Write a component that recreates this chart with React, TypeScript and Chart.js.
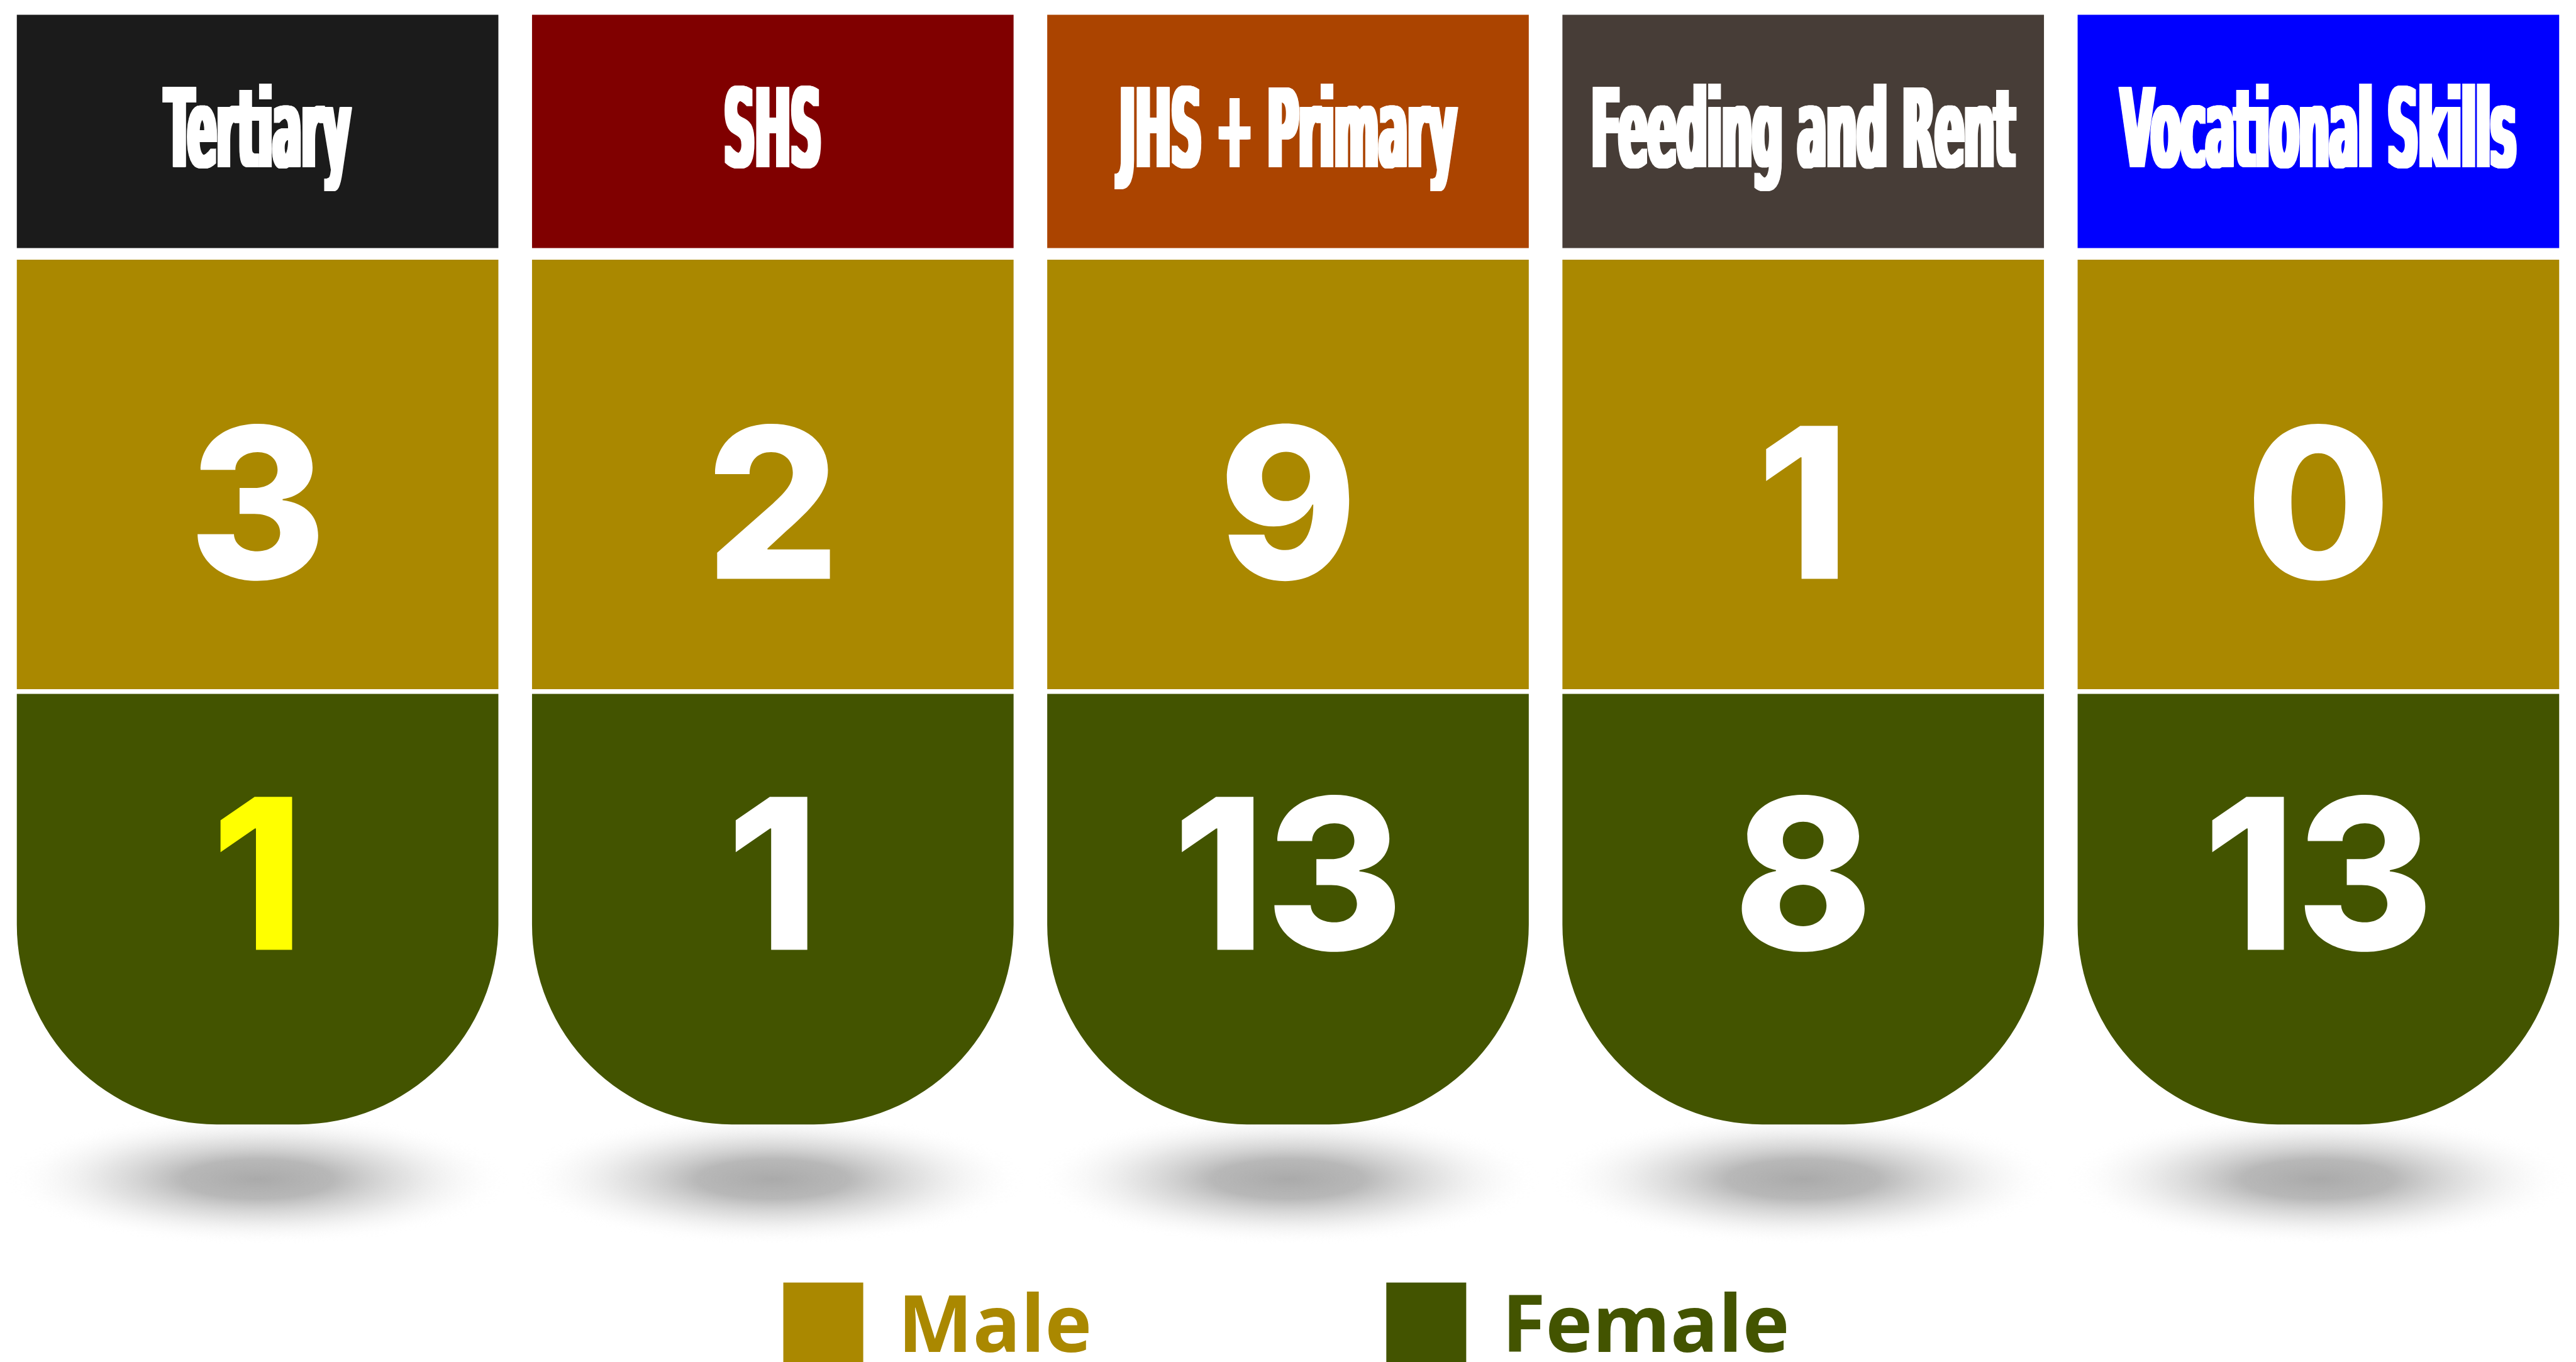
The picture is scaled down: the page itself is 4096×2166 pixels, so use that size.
import React, { useEffect, useRef } from "react";
import { Chart, registerables } from "chart.js";

Chart.register(...registerables);

// ---- data ----
const categories = ["Tertiary", "SHS", "JHS + Primary", "Feeding and Rent", "Vocational Skills"];
const maleValues = [3, 2, 9, 1, 0];
const femaleValues = [1, 1, 13, 8, 13];
const seriesNames = ["Male", "Female"];

// ---- styles ----
const headerColors = ["#1b1b1b", "#800000", "#ab4400", "#473d37", "#0000ff"];
const maleColor = "#aa8800";
const femaleColor = "#435400";
const femaleLabelColors = ["#ffff00", "#ffffff", "#ffffff", "#ffffff", "#ffffff"];

// ---- layout (reference units, 4900 x 2591) ----
const W = 4096;
const H = 2166;
const S = W / 4900;
const REF_H = 2591;
const ROW_HEADER: [number, number] = [28, 472];
const ROW_MALE: [number, number] = [494, 1311];
const ROW_FEMALE: [number, number] = [1320, 2139];
const CORNER = 380;
const HEADER_BASE = 318;
const MALE_BASE = 1101;
const FEMALE_BASE = 1807;
const SHADOW_Y = 2243;
const HEADER_FONT = `"DejaVu Sans Condensed", "DejaVu Sans", sans-serif`;

const overlayPlugin = {
  id: "overlay",
  beforeDatasetsDraw(chart: any) {
    const ctx = chart.ctx;
    const y = chart.scales.y;
    const meta = chart.getDatasetMeta(2);
    meta.data.forEach((el: any) => {
      const cx = el.x;
      const cy = y.getPixelForValue(SHADOW_Y);
      const rx = 480 * S;
      const ry = 125 * S;
      ctx.save();
      ctx.translate(cx, cy);
      ctx.scale(1, ry / rx);
      const g = ctx.createRadialGradient(0, 0, 0, 0, 0, rx);
      g.addColorStop(0, "rgba(170,170,170,1)");
      g.addColorStop(0.3, "rgba(178,178,178,0.92)");
      g.addColorStop(0.6, "rgba(210,210,210,0.6)");
      g.addColorStop(0.85, "rgba(238,238,238,0.25)");
      g.addColorStop(1, "rgba(255,255,255,0)");
      ctx.fillStyle = g;
      ctx.beginPath();
      ctx.arc(0, 0, rx, 0, Math.PI * 2);
      ctx.fill();
      ctx.restore();
    });
  },
  afterDatasetsDraw(chart: any) {
    const ctx = chart.ctx;
    const y = chart.scales.y;
    const headerMeta = chart.getDatasetMeta(0);

    // header labels (condensed display look)
    const hSize = 208 * S;
    const smear = 10 * S; // total horizontal thickening, px
    ctx.save();
    ctx.font = `bold ${hSize}px ${HEADER_FONT}`;
    const natural = ctx.measureText(categories[4]).width;
    ctx.restore();
    const squeeze = (762 * S - smear) / natural;
    headerMeta.data.forEach((el: any, i: number) => {
      ctx.save();
      ctx.translate(el.x, y.getPixelForValue(HEADER_BASE));
      ctx.scale(squeeze, 1);
      ctx.font = `bold ${hSize}px ${HEADER_FONT}`;
      ctx.textAlign = "center";
      ctx.textBaseline = "alphabetic";
      ctx.fillStyle = "#ffffff";
      const half = smear / 2 / squeeze;
      const step = Math.max(0.5, half / 6);
      for (let d = -half; d <= half + 0.001; d += step) {
        ctx.fillText(categories[i], d, 0);
      }
      ctx.restore();
    });

    // values
    ctx.save();
    ctx.font = `800 ${400 * S}px Inter, "Open Sans", sans-serif`;
    ctx.textAlign = "center";
    ctx.textBaseline = "alphabetic";
    headerMeta.data.forEach((el: any, i: number) => {
      ctx.fillStyle = "#ffffff";
      ctx.fillText(String(maleValues[i]), el.x, y.getPixelForValue(MALE_BASE));
      ctx.fillStyle = femaleLabelColors[i];
      ctx.fillText(String(femaleValues[i]), el.x, y.getPixelForValue(FEMALE_BASE));
    });
    ctx.restore();

    // legend
    const items = [
      { name: seriesNames[0], color: maleColor, box: 1490, text: 1708 },
      { name: seriesNames[1], color: femaleColor, box: 2637, text: 2857 },
    ];
    ctx.save();
    ctx.font = `bold ${151 * S}px "Open Sans", sans-serif`;
    ctx.textAlign = "left";
    ctx.textBaseline = "alphabetic";
    items.forEach((it) => {
      ctx.fillStyle = it.color;
      ctx.fillRect(it.box * S, 2440 * S, 152 * S, 200 * S);
      ctx.fillText(it.name, it.text * S, 2572 * S);
    });
    ctx.restore();
  },
};

export default function App() {
  const ref = useRef<HTMLCanvasElement | null>(null);

  useEffect(() => {
    document.body.style.margin = "0";
    document.body.style.background = "#ffffff";
    const canvas = ref.current;
    if (!canvas) return;
    const span = (r: [number, number]) => categories.map(() => [r[0], r[1]]);
    const common = {
      grouped: false,
      barPercentage: 916 / 980,
      categoryPercentage: 1,
      borderWidth: 0,
      borderSkipped: false,
    };
    const chart = new Chart(canvas, {
      type: "bar",
      data: {
        labels: categories,
        datasets: [
          { label: "Header", data: span(ROW_HEADER) as any, backgroundColor: headerColors, ...common },
          { label: seriesNames[0], data: span(ROW_MALE) as any, backgroundColor: maleColor, ...common },
          {
            label: seriesNames[1],
            data: span(ROW_FEMALE) as any,
            backgroundColor: femaleColor,
            borderRadius: { topLeft: 0, topRight: 0, bottomLeft: CORNER * S, bottomRight: CORNER * S },
            ...common,
          },
        ],
      } as any,
      options: {
        responsive: false,
        maintainAspectRatio: false,
        animation: false,
        devicePixelRatio: 1,
        layout: { padding: 0 },
        scales: {
          x: { type: "category", display: false, offset: true, grid: { display: false } },
          y: { type: "linear", display: false, min: 0, max: REF_H, reverse: true },
        },
        plugins: {
          legend: { display: false },
          tooltip: { enabled: false },
        },
      } as any,
      plugins: [overlayPlugin],
    });
    return () => chart.destroy();
  }, []);

  return (
    <div style={{ width: W, height: H, background: "#ffffff" }}>
      <canvas ref={ref} width={W} height={H} style={{ display: "block", width: W, height: H }} />
    </div>
  );
}
